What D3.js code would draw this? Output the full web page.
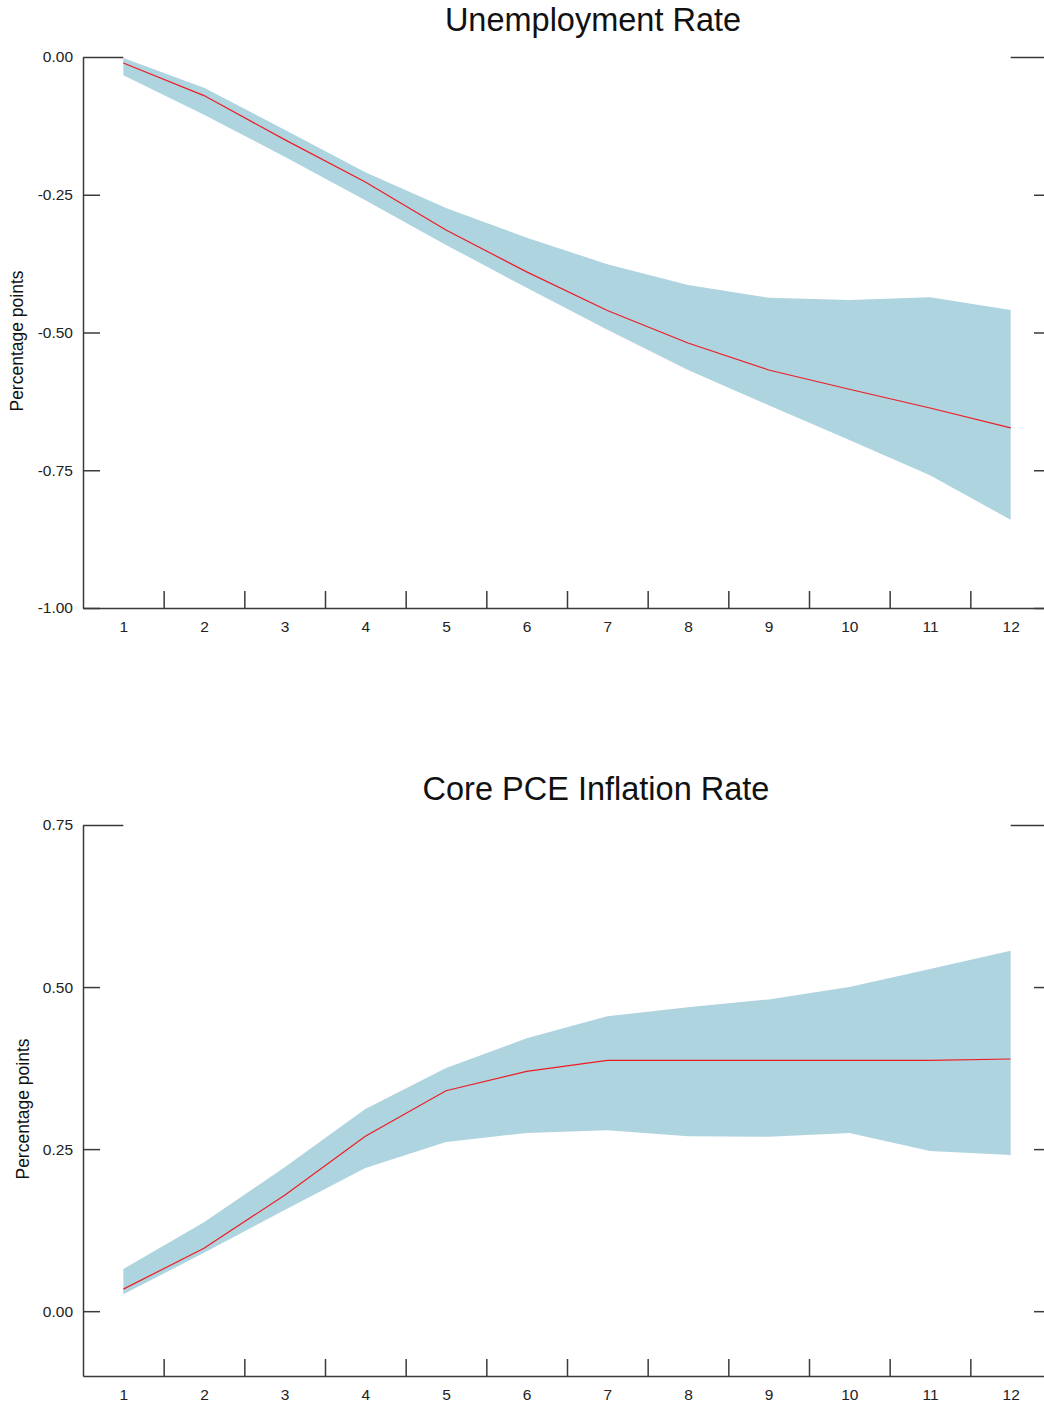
<!DOCTYPE html>
<html>
<head>
<meta charset="utf-8">
<script src="https://cdn.jsdelivr.net/npm/d3@7"></script>
<style>
  body { margin: 0; background: #fff; }
  svg { display: block; font-family: "Liberation Sans", Arial, sans-serif; }
  .axis path, .axis line { stroke: #3a3a3a; stroke-width: 1.5; }
  .axis text { fill: #222; font-size: 15.5px; }
</style>
</head>
<body>
<div id="chart"></div>
<script>
// horizons (quarters)
const horizons = [1, 2, 3, 4, 5, 6, 7, 8, 9, 10, 11, 12];

// Unemployment rate response
const unempMid   = [-0.011, -0.070, -0.150, -0.227, -0.314, -0.390, -0.460, -0.519, -0.568, -0.603, -0.637, -0.673];
const unempUpper = [-0.002, -0.056, -0.132, -0.209, -0.274, -0.328, -0.376, -0.414, -0.437, -0.441, -0.436, -0.459];
const unempLower = [-0.033, -0.105, -0.181, -0.260, -0.341, -0.419, -0.495, -0.568, -0.632, -0.695, -0.759, -0.840];
const unempTicks = [0, -0.25, -0.5, -0.75, -1];

// Core PCE inflation response
const pceMid   = [0.034, 0.097, 0.179, 0.270, 0.340, 0.370, 0.387, 0.387, 0.387, 0.387, 0.387, 0.389];
const pceUpper = [0.065, 0.137, 0.222, 0.312, 0.375, 0.421, 0.455, 0.469, 0.481, 0.500, 0.528, 0.556];
const pceLower = [0.026, 0.090, 0.156, 0.221, 0.261, 0.275, 0.279, 0.270, 0.269, 0.275, 0.247, 0.241];
const pceTicks = [0.75, 0.5, 0.25, 0];

const width = 1044, height = 1405;
const svg = d3.select("#chart").append("svg")
  .attr("width", width)
  .attr("height", height);

const xScale = d3.scaleLinear().domain([0.5, 12.5]).range([83, 1051]);
// plain hyphen for negatives, like the original
const fmt = d => d3.format(".2f")(d).replace("\u2212", "-");

function drawPanel(opts) {
  const g = svg.append("g");
  const yScale = d3.scaleLinear().domain(opts.domain).range([opts.bottom, opts.top]);
  const data = horizons.map((h, i) => ({ h: h, mid: opts.mid[i], lo: opts.lower[i], hi: opts.upper[i] }));

  // confidence band
  const area = d3.area()
    .x(d => xScale(d.h))
    .y0(d => yScale(d.lo))
    .y1(d => yScale(d.hi));
  g.append("path").datum(data)
    .attr("d", area)
    .attr("fill", "#aed4df");

  // point estimate
  const line = d3.line()
    .x(d => xScale(d.h))
    .y(d => yScale(d.mid));
  g.append("path").datum(data)
    .attr("d", line)
    .attr("fill", "none")
    .attr("stroke", "#ee1c25")
    .attr("stroke-width", 1.2);

  const topVal = opts.domain[1];
  const longTick = xScale(1) - xScale.range()[0];

  // left axis, ticks pointing inward
  const left = g.append("g").attr("class", "axis")
    .attr("transform", `translate(${xScale.range()[0]},0)`)
    .call(d3.axisLeft(yScale).tickValues(opts.ticks).tickSizeInner(-17).tickSizeOuter(0)
      .tickPadding(10).tickFormat(fmt));
  left.selectAll(".tick").filter(d => d === topVal).select("line").attr("x2", longTick);

  // right axis (only the inward ticks are visible)
  const right = g.append("g").attr("class", "axis")
    .attr("transform", `translate(${xScale.range()[1]},0)`)
    .call(d3.axisRight(yScale).tickValues(opts.ticks).tickSizeInner(-17).tickSizeOuter(0).tickFormat(""));
  right.selectAll(".tick").filter(d => d === topVal).select("line").attr("x2", -longTick);

  // bottom axis: boundary ticks
  g.append("g").attr("class", "axis")
    .attr("transform", `translate(0,${opts.bottom})`)
    .call(d3.axisBottom(xScale).tickValues(horizons.slice(1).map(h => h - 0.5))
      .tickSizeInner(-17).tickSizeOuter(0).tickFormat(""));

  // bottom axis labels
  const lab = g.append("g").attr("class", "axis")
    .attr("transform", `translate(0,${opts.bottom})`)
    .call(d3.axisBottom(xScale).tickValues(horizons).tickSize(0).tickPadding(13).tickFormat(d3.format("d")));
  lab.select(".domain").remove();

  // title
  g.append("text")
    .attr("x", opts.titleX)
    .attr("y", opts.titleY)
    .attr("text-anchor", "middle")
    .attr("font-size", 32.5)
    .attr("fill", "#111")
    .text(opts.title);

  // y axis label
  g.append("text")
    .attr("transform", `translate(${opts.labelX},${opts.labelY}) rotate(-90)`)
    .attr("text-anchor", "middle")
    .attr("font-size", 17.5)
    .attr("fill", "#111")
    .text("Percentage points");
}

drawPanel({
  title: "Unemployment Rate", titleX: 593, titleY: 31,
  domain: [-1, 0], top: 57, bottom: 608, labelX: 23, labelY: 341,
  mid: unempMid, upper: unempUpper, lower: unempLower, ticks: unempTicks
});

drawPanel({
  title: "Core PCE Inflation Rate", titleX: 596, titleY: 800,
  domain: [-0.1, 0.75], top: 825, bottom: 1376, labelX: 29, labelY: 1109,
  mid: pceMid, upper: pceUpper, lower: pceLower, ticks: pceTicks
});
</script>
</body>
</html>
